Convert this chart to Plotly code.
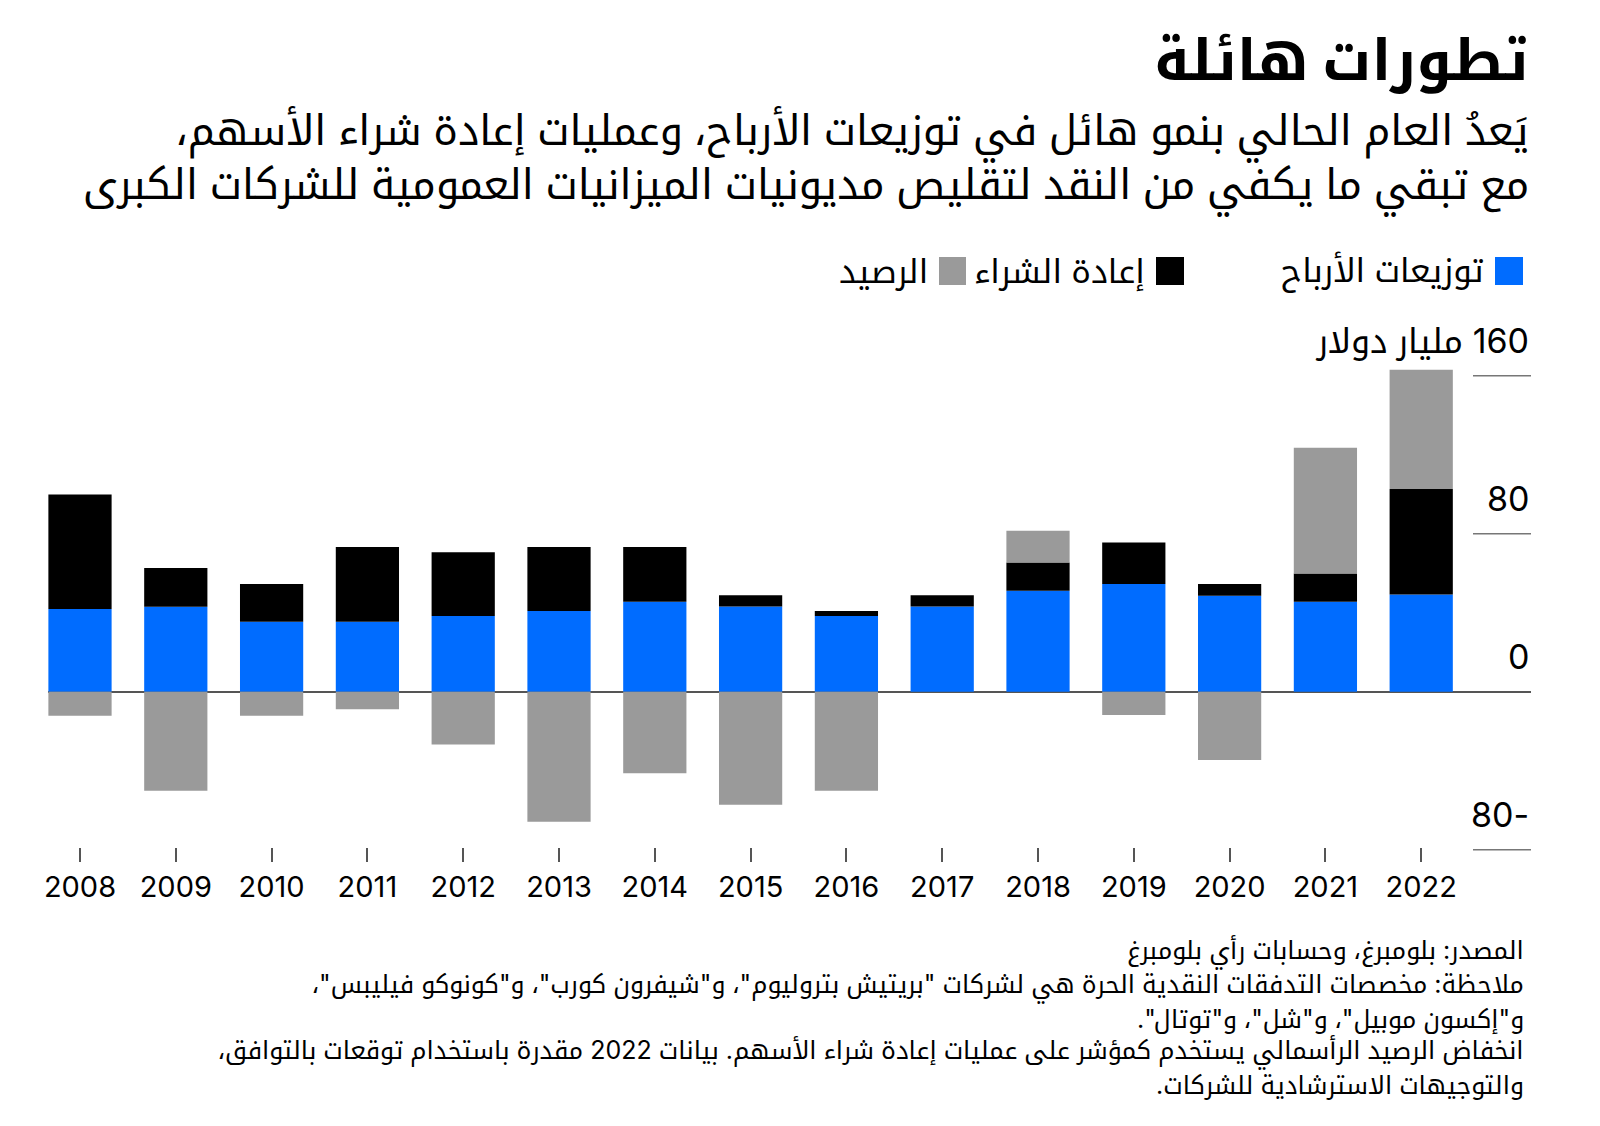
import plotly.graph_objects as go

# ---------------- data ----------------
years = ["2008", "2009", "2010", "2011", "2012", "2013", "2014", "2015",
         "2016", "2017", "2018", "2019", "2020", "2021", "2022"]
dividends = [41.9, 43.0, 35.4, 35.4, 38.4, 40.9, 45.6, 43.2, 38.3, 43.2, 51.1, 54.5, 48.6, 45.6, 49.3]
buybacks = [58.0, 19.6, 19.1, 37.9, 32.2, 32.4, 27.7, 5.6, 2.6, 5.6, 14.4, 21.1, 5.9, 14.3, 53.3]
balance = [-12.2, -50.1, -12.2, -8.9, -26.7, -65.8, -41.3, -57.2, -50.1, 0.0, 16.0, -11.8, -34.6, 63.6, 60.4]

series_names = ["توزيعات الأرباح", "إعادة الشراء", "الرصيد"]
series_colors = ["#006cff", "#000000", "#9a9a9a"]
y_ticks = [160, 80, 0, -80]
y_unit = "مليار دولار"

title = "تطورات هائلة"
subtitle_lines = [
    "يَعدُ العام الحالي بنمو هائل في توزيعات الأرباح، وعمليات إعادة شراء الأسهم،",
    "مع تبقي ما يكفي من النقد لتقليص مديونيات الميزانيات العمومية للشركات الكبرى",
]
note_lines = [
    "المصدر: بلومبرغ، وحسابات رأي بلومبرغ",
    "ملاحظة: مخصصات التدفقات النقدية الحرة هي لشركات \"بريتيش بتروليوم\"، و\"شيفرون كورب\"، و\"كونوكو فيليبس\"،",
    "و\"إكسون موبيل\"، و\"شل\"، و\"توتال\".",
    "انخفاض الرصيد الرأسمالي يستخدم كمؤشر على عمليات إعادة شراء الأسهم. بيانات 2022 مقدرة باستخدام توقعات بالتوافق،",
    "والتوجيهات الاسترشادية للشركات.",
]

# ---------------- layout helpers ----------------
W, H = 1600, 1126
PL, PR, PT, PB = 48, 1531, 355, 862
FONT = "Inter, 'Noto Kufi Arabic', 'Noto Sans Arabic', 'DejaVu Sans', sans-serif"
RLM = "\u200f"


def rtl(s):
    return RLM + s + RLM


def fx(px):
    return (px - PL) / (PR - PL)


def fy(py):
    return (PB - py) / (PB - PT)


fig = go.Figure()
for name, vals, col in zip(series_names, [dividends, buybacks, balance], series_colors):
    fig.add_bar(x=years, y=vals, name=name, marker_color=col,
                marker_line_width=0, showlegend=False)

fig.update_layout(
    width=W, height=H,
    margin=dict(l=PL, r=W - PR, t=PT, b=H - PB, pad=0),
    barmode="relative", bargap=0.34,
    plot_bgcolor="white", paper_bgcolor="white",
    font=dict(family=FONT, color="#000"),
    xaxis=dict(type="category", range=[-0.334, 15.146], showgrid=False,
               showline=False, zeroline=False, ticks="inside", ticklen=14,
               tickwidth=1.5, tickcolor="#555", ticklabelstandoff=5,
               tickfont=dict(size=29, family=FONT, color="#000")),
    yaxis=dict(range=[-86.2, 170.5], showgrid=False, showticklabels=False,
               zeroline=True, zerolinecolor="#555", zerolinewidth=2,
               showline=False, ticks=""),
)

shapes = []
annotations = []

# short right-side gridlines + tick labels
for v in y_ticks:
    if v != 0:
        shapes.append(dict(type="line", xref="paper", yref="y", x0=fx(1473), x1=1,
                           y0=v, y1=v, line=dict(color="#777", width=1.5)))
    label = f"{v} {y_unit}" if v == y_ticks[0] else f"{v}"
    annotations.append(dict(xref="paper", yref="y", x=1, y=v, yshift=35,
                            xanchor="right", yanchor="middle", showarrow=False,
                            text=rtl(label), font=dict(size=34, family=FONT, color="#000")))

# legend (RTL: square to the right of the label)
legend_sq = [(1495, 1523), (1156, 1184), (939, 966)]
legend_txt_right = [1486, 1147, 930]
for name, col, (x0, x1), xr in zip(series_names, series_colors, legend_sq, legend_txt_right):
    shapes.append(dict(type="rect", xref="paper", yref="paper", x0=fx(x0), x1=fx(x1),
                       y0=fy(285), y1=fy(257), fillcolor=col, line=dict(width=0)))
    annotations.append(dict(xref="paper", yref="paper", x=fx(xr), y=fy(271),
                            xanchor="right", yanchor="middle", showarrow=False,
                            text=rtl(name), font=dict(size=33, family=FONT, color="#000")))

# title and subtitle
annotations.append(dict(xref="paper", yref="paper", x=1, y=fy(60), xanchor="right",
                        yanchor="middle", showarrow=False, text="<b>" + rtl(title) + "</b>",
                        font=dict(size=57, family=FONT, color="#000")))
for line, cy in zip(subtitle_lines, [134, 188]):
    annotations.append(dict(xref="paper", yref="paper", x=1, y=fy(cy), xanchor="right",
                            yanchor="middle", showarrow=False, text=rtl(line),
                            font=dict(size=41.5, family=FONT, color="#000")))

# notes
for line, cy in zip(note_lines, [952, 986, 1019, 1052, 1085]):
    annotations.append(dict(xref="paper", yref="paper", x=fx(1526), y=fy(cy), xanchor="right",
                            yanchor="middle", showarrow=False, text=rtl(line),
                            font=dict(size=25, family=FONT, color="#000")))

fig.update_layout(shapes=shapes, annotations=annotations)
fig.write_html("out.html")
